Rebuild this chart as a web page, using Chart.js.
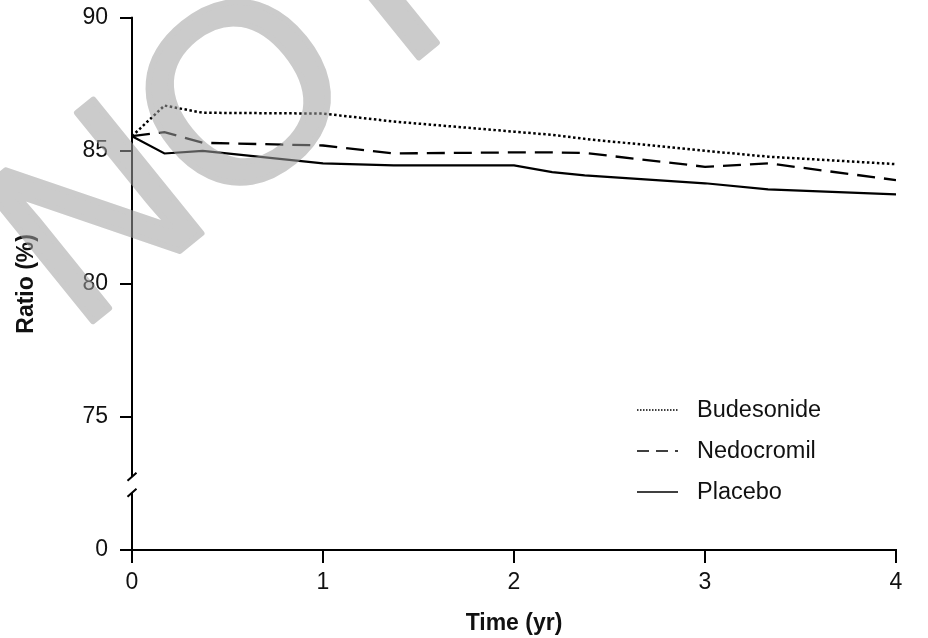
<!DOCTYPE html>
<html>
<head>
<meta charset="utf-8">
<script src="https://cdn.jsdelivr.net/npm/chart.js@4/dist/chart.umd.min.js"></script>
<style>
  html, body { margin: 0; padding: 0; background: #fff; }
  canvas { display: block; }
</style>
</head>
<body>
<canvas id="chart" width="928" height="638"></canvas>
<script>
// Data
const years = [0, 0.17, 0.37, 1.0, 1.37, 2.0, 2.2, 2.37, 3.0, 3.33, 4.0];
const budesonide = [85.55, 86.7, 86.43, 86.4, 86.1, 85.72, 85.6, 85.45, 85.0, 84.78, 84.5];
const nedocromil = [85.55, 85.7, 85.3, 85.2, 84.9, 84.94, 84.94, 84.92, 84.4, 84.53, 83.9];
const placebo = [85.55, 84.9, 85.0, 84.53, 84.45, 84.45, 84.2, 84.08, 83.78, 83.55, 83.36];
const seriesNames = ['Budesonide', 'Nedocromil', 'Placebo'];
const xTicks = [0, 1, 2, 3, 4];
const yTicks = [70, 75, 80, 85, 90];   // 70 is the base of the broken axis, labelled 0
const yBreak = [72.15, 72.75];         // gap in the y axis
const watermarkText = 'NOT';

const FONT = 'Liberation Sans, Arial, Helvetica, sans-serif';
Chart.defaults.font.family = FONT;
Chart.defaults.color = '#111';

function pts(values) {
    return values.map((v, i) => ({ x: years[i], y: v }));
}

// Axis with break marks, legend and the grey watermark
const decorations = {
    id: 'decorations',
    afterDraw(chart) {
        const ctx = chart.ctx;
        const y = chart.scales.y;
        const area = chart.chartArea;
        const x0 = area.left;
        const yTop = y.getPixelForValue(yTicks[yTicks.length - 1]);
        const yBase = y.getPixelForValue(yTicks[0]);
        const b1 = y.getPixelForValue(yBreak[1]);
        const b2 = y.getPixelForValue(yBreak[0]);

        ctx.save();
        ctx.strokeStyle = '#000';
        ctx.lineWidth = 2;
        ctx.beginPath();
        ctx.moveTo(x0, yTop - 1);
        ctx.lineTo(x0, b1);
        ctx.moveTo(x0, b2);
        ctx.lineTo(x0, yBase);
        // break slashes
        ctx.moveTo(x0 - 4.5, b1 + 4);
        ctx.lineTo(x0 + 4.5, b1 - 4);
        ctx.moveTo(x0 - 4.5, b2 + 4);
        ctx.lineTo(x0 + 4.5, b2 - 4);
        ctx.stroke();
        ctx.restore();

        // legend
        const legendDash = [[1.5, 1.5], [12, 7], []];
        ctx.save();
        ctx.font = '23.5px ' + FONT;
        ctx.textBaseline = 'middle';
        ctx.fillStyle = '#111';
        chart.data.datasets.forEach((ds, i) => {
            const ly = 410 + i * 41;
            ctx.strokeStyle = '#000';
            ctx.lineWidth = 1.6;
            ctx.setLineDash(legendDash[i]);
            ctx.beginPath();
            ctx.moveTo(637, ly);
            ctx.lineTo(678, ly);
            ctx.stroke();
            ctx.setLineDash([]);
            ctx.fillText(ds.label, 697, ly + 1);
        });
        ctx.restore();

        // watermark: drawn opaque off screen, then laid over with alpha
        const wm = document.createElement('canvas');
        wm.width = chart.width;
        wm.height = chart.height;
        const w = wm.getContext('2d');
        w.translate(77, 334);
        w.rotate(-39 * Math.PI / 180);
        w.font = '250px ' + FONT;
        w.fillStyle = 'rgb(160,160,160)';
        w.strokeStyle = 'rgb(160,160,160)';
        w.lineWidth = 6;
        w.lineJoin = 'round';
        w.fillText(watermarkText, 0, 0);
        w.strokeText(watermarkText, 0, 0);
        ctx.save();
        ctx.globalAlpha = 0.55;
        ctx.drawImage(wm, 0, 0);
        ctx.restore();
    }
};

new Chart(document.getElementById('chart'), {
    type: 'line',
    data: {
        datasets: [
            {
                label: seriesNames[0],
                data: pts(budesonide),
                borderColor: '#000',
                borderWidth: 2.5,
                borderDash: [2.5, 2.5]
            },
            {
                label: seriesNames[1],
                data: pts(nedocromil),
                borderColor: '#000',
                borderWidth: 2.3,
                borderDash: [18, 9]
            },
            {
                label: seriesNames[2],
                data: pts(placebo),
                borderColor: '#000',
                borderWidth: 2.2
            }
        ]
    },
    options: {
        responsive: false,
        animation: false,
        devicePixelRatio: 1,
        elements: { point: { radius: 0 }, line: { tension: 0, fill: false } },
        layout: { padding: { left: 0, right: 32, top: 17, bottom: 0 } },
        plugins: {
            legend: { display: false },
            tooltip: { enabled: false }
        },
        scales: {
            x: {
                type: 'linear',
                min: xTicks[0],
                max: xTicks[xTicks.length - 1],
                afterBuildTicks: s => { s.ticks = xTicks.map(v => ({ value: v })); },
                afterFit: s => { s.height = 88; },
                border: { display: true, color: '#000', width: 2 },
                grid: { drawOnChartArea: false, drawTicks: true, tickLength: 13, color: '#000', lineWidth: 2 },
                ticks: { font: { size: 23, lineHeight: 1.2 }, padding: 6, color: '#111' },
                title: {
                    display: true,
                    text: 'Time (yr)',
                    font: { size: 23, weight: 'bold', lineHeight: 1.2 },
                    color: '#111',
                    padding: { top: 0, bottom: 1 }
                }
            },
            y: {
                type: 'linear',
                min: yTicks[0],
                max: yTicks[yTicks.length - 1],
                afterBuildTicks: s => { s.ticks = yTicks.map(v => ({ value: v })); },
                afterFit: s => { s.width = 132; },
                border: { display: false },
                grid: { drawOnChartArea: false, drawTicks: true, tickLength: 12, color: '#000', lineWidth: 2 },
                ticks: {
                    font: { size: 23, lineHeight: 0.5 },
                    padding: 12,
                    color: '#111',
                    callback: v => (v === yTicks[0] ? '0' : v)
                },
                title: {
                    display: true,
                    text: 'Ratio (%)',
                    font: { size: 23, weight: 'bold', lineHeight: 1.2 },
                    color: '#111',
                    padding: { top: 13, bottom: 0 }
                }
            }
        }
    },
    plugins: [decorations]
});
</script>
</body>
</html>
